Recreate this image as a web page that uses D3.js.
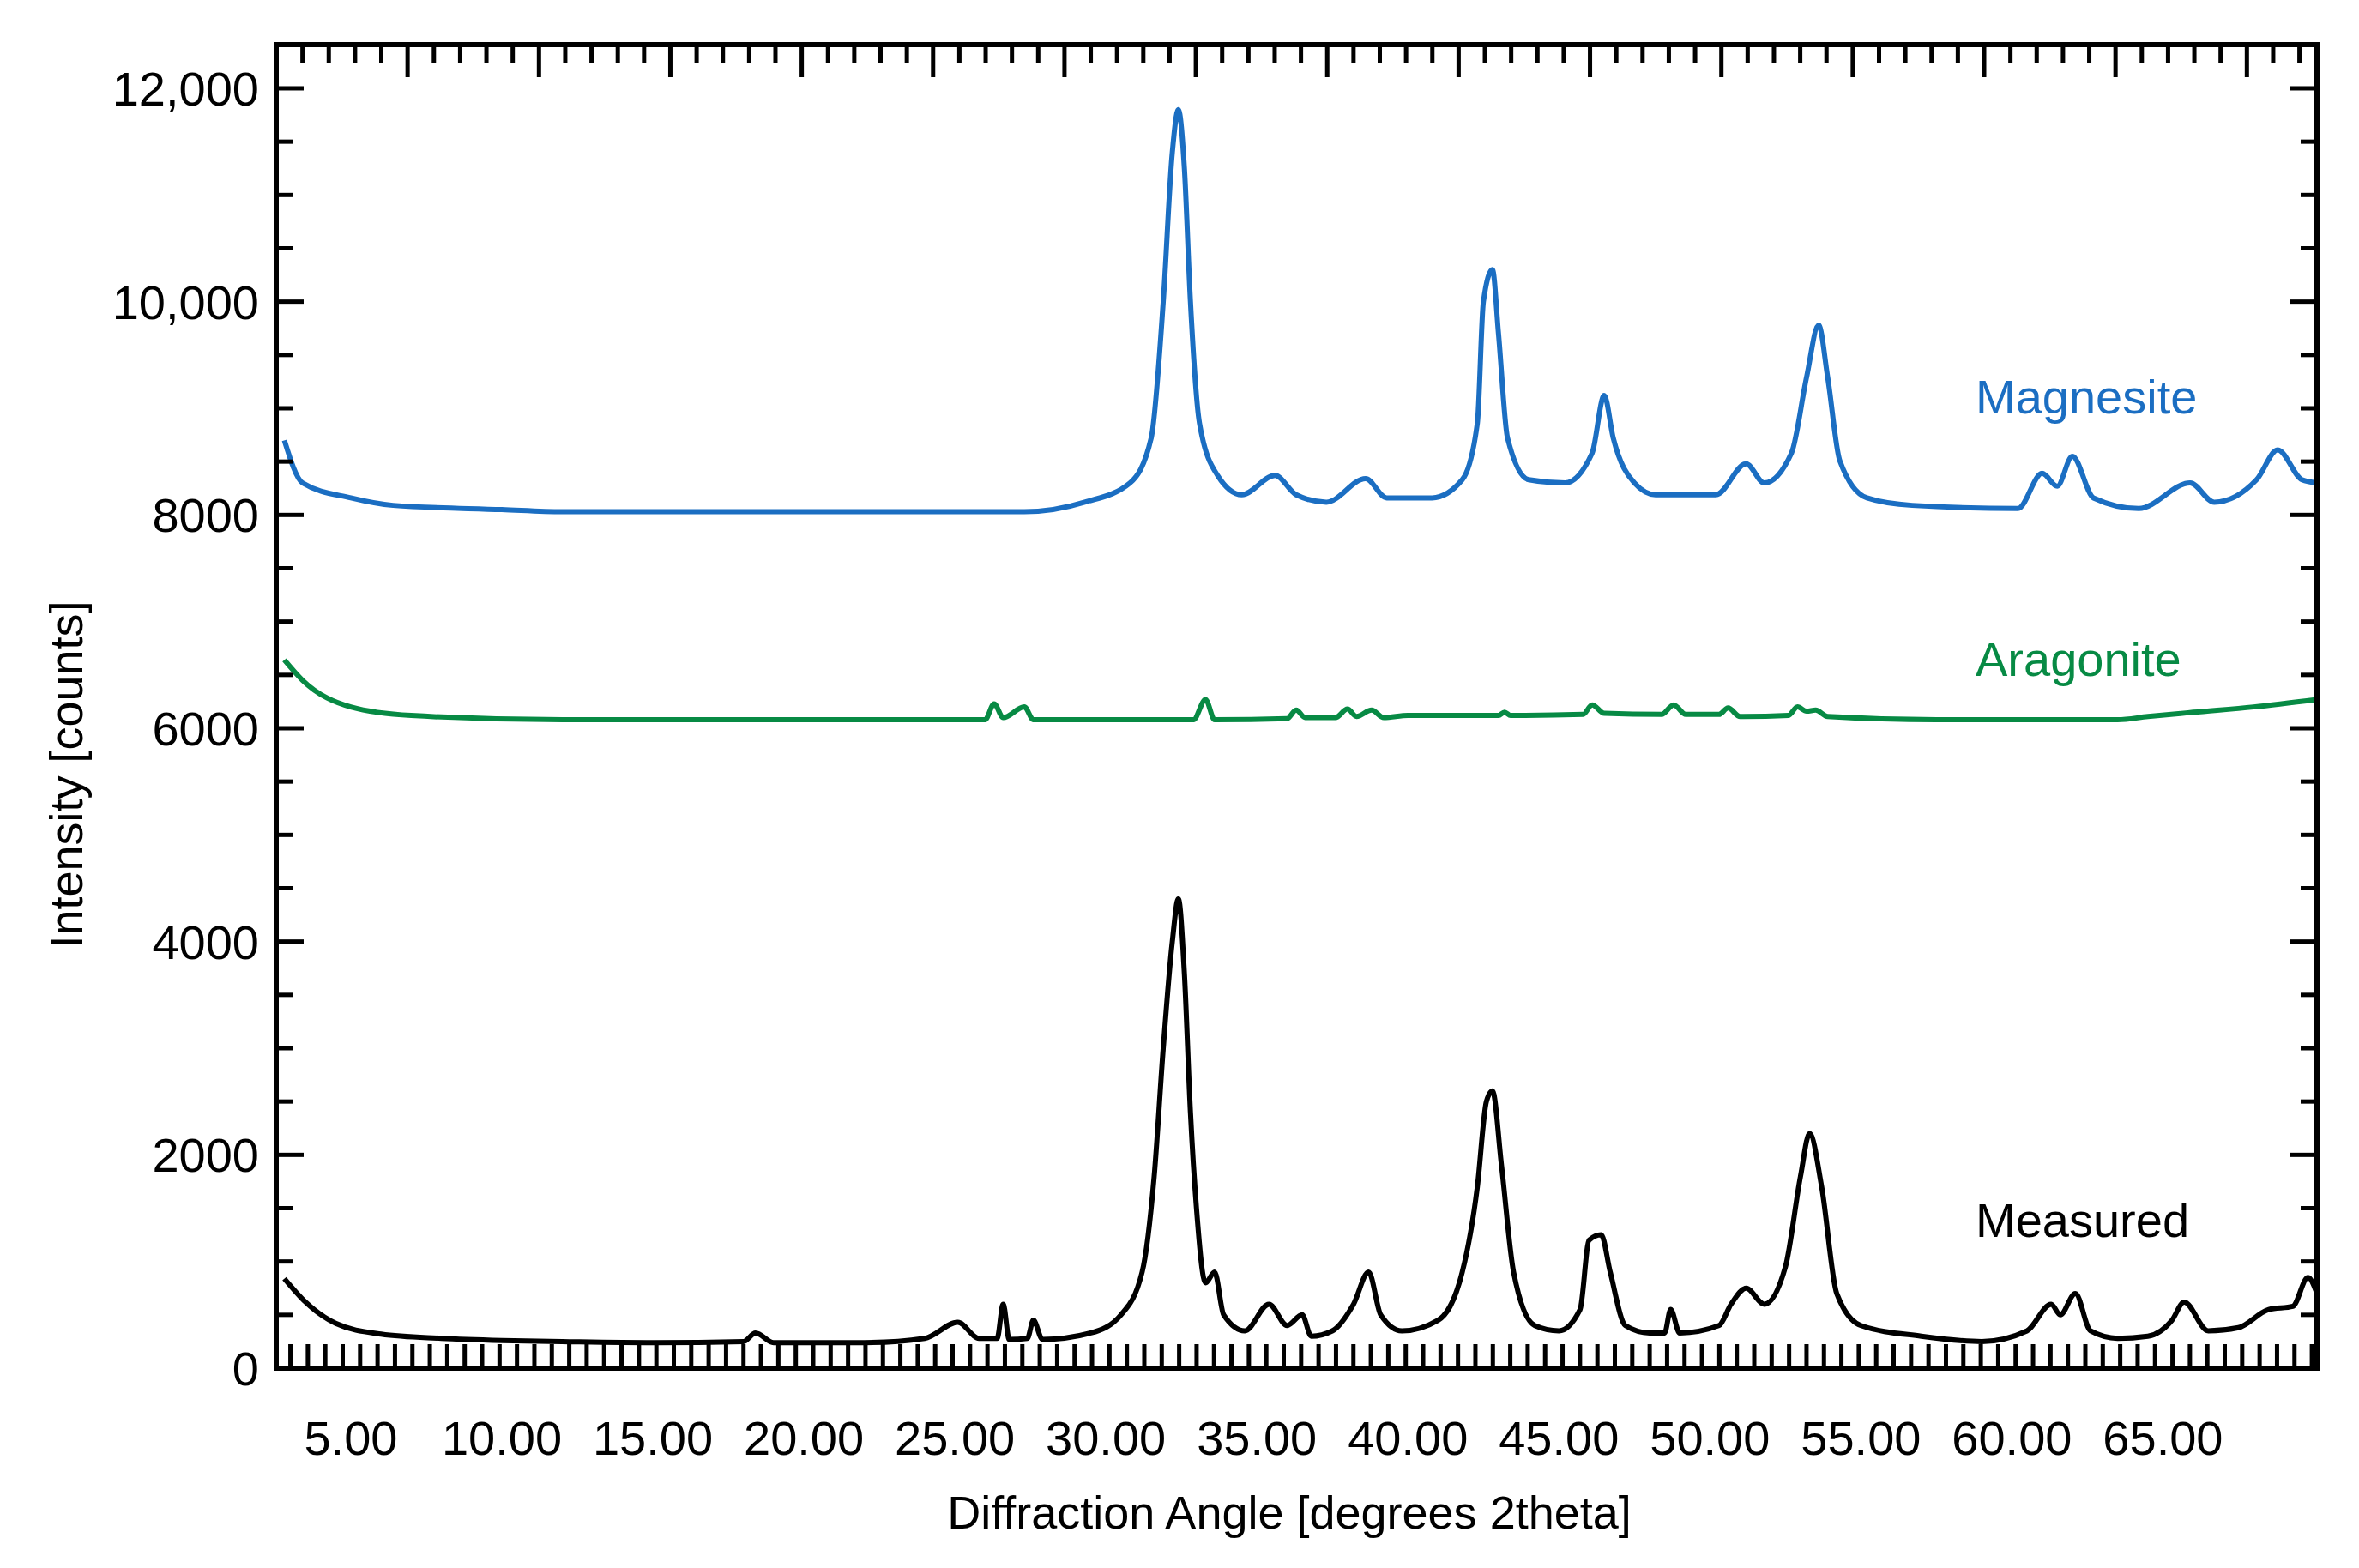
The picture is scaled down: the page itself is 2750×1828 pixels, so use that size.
<!DOCTYPE html>
<html><head><meta charset="utf-8">
<script src="https://cdn.jsdelivr.net/npm/d3@7"></script>
<style>body{margin:0;background:#fff}text{font-family:"Liberation Sans",Arial,sans-serif}</style>
</head><body><svg id="c" width="2750" height="1828"></svg>
<script>
const xTickValues=[5,10,15,20,25,30,35,40,45,50,55,60,65];
const yTickValues=[0,2000,4000,6000,8000,10000,12000];
const yTickLabels=["0","2000","4000","6000","8000","10,000","12,000"];
const magnesite=[[2.8,8700],[3.4,8300],[5,8160],[6.4,8090],[10,8050],[12,8030],[27.3,8030],[29.3,8120],[30.8,8300],[31.5,8720],[31.9,10000],[32.2,11400],[32.4,11800],[32.6,11250],[32.8,10000],[33.1,8860],[33.7,8370],[34.5,8190],[35.6,8370],[36.3,8190],[37.3,8120],[38.6,8340],[39.3,8160],[40.8,8160],[41.8,8330],[42.3,8860],[42.5,10000],[42.8,10300],[43.0,9700],[43.3,8720],[44.0,8330],[45.2,8300],[46.1,8580],[46.5,9120],[46.8,8720],[47.5,8300],[48.2,8190],[50.2,8190],[51.2,8480],[51.8,8300],[52.7,8580],[53.2,9290],[53.6,9780],[53.9,9290],[54.3,8510],[55.2,8160],[56.7,8090],[60.2,8060],[61.0,8390],[61.5,8270],[62.0,8550],[62.7,8160],[64.2,8060],[65.9,8300],[66.7,8120],[68.1,8330],[68.8,8610],[69.6,8330],[70.1,8300]];
const aragonite=[[2.8,6640],[3.4,6450],[5,6200],[7,6120],[12,6080],[26.0,6080],[26.3,6230],[26.6,6100],[27.3,6200],[27.6,6080],[32.9,6080],[33.3,6270],[33.6,6080],[36.0,6090],[36.3,6170],[36.6,6100],[37.6,6100],[38.0,6180],[38.3,6110],[38.8,6170],[39.2,6100],[40.0,6120],[43.0,6120],[43.2,6150],[43.4,6120],[45.8,6130],[46.1,6220],[46.5,6140],[48.4,6130],[48.8,6220],[49.2,6130],[50.3,6130],[50.6,6190],[51.0,6110],[52.6,6120],[52.9,6200],[53.2,6160],[53.5,6170],[53.9,6110],[57.5,6080],[63.5,6080],[64.5,6110],[66,6150],[68,6200],[70.1,6270]];
const measured=[[2.8,840],[3.5,620],[4.5,420],[6,320],[8,280],[10,260],[12,250],[15,240],[18.0,250],[18.4,330],[19,240],[22,240],[24,280],[25.1,430],[25.8,280],[26.4,280],[26.6,600],[26.8,270],[27.4,280],[27.6,450],[27.9,270],[29.5,330],[30.5,500],[31.2,900],[31.6,1800],[31.9,3000],[32.2,4000],[32.4,4400],[32.6,3700],[32.8,2400],[33.0,1500],[33.3,800],[33.6,900],[33.9,500],[34.6,350],[35.4,600],[36.0,400],[36.5,500],[36.8,300],[37.5,350],[38.2,600],[38.7,900],[39.1,500],[39.8,350],[41,450],[41.8,900],[42.3,1700],[42.6,2500],[42.8,2600],[43.1,1900],[43.5,900],[44.2,400],[45.0,350],[45.7,550],[46.0,1200],[46.4,1250],[46.7,900],[47.2,400],[48.0,330],[48.5,330],[48.7,550],[49,330],[50.3,400],[50.7,600],[51.2,750],[51.8,600],[52.5,950],[53.0,1800],[53.3,2200],[53.7,1700],[54.2,700],[55,400],[57,300],[59,250],[60.5,350],[61.3,600],[61.6,500],[62.1,700],[62.6,350],[63.5,280],[64.5,300],[65.3,450],[65.7,620],[66.5,350],[67.5,380],[68.5,550],[69.3,580],[69.8,850],[70.1,700]];
const seriesNames=["Magnesite","Aragonite","Measured"];
const seriesColors=["#1b6ec2","#078a44","#000000"];

const svg=d3.select("#c");
const L=322,R=2701,T=52,B=1595;
const x=d3.scaleLinear().domain([2.53,70.1]).range([L,R]);
const y=d3.scaleLinear().domain([0,12410]).range([B,T]);
const line=d3.line().x(d=>x(d[0])).y(d=>y(d[1])).curve(d3.curveMonotoneX);
svg.append("clipPath").attr("id","cp").append("rect").attr("x",L).attr("y",T).attr("width",R-L).attr("height",B-T);
[magnesite,aragonite,measured].forEach((s,i)=>{
  svg.append("path").attr("d",line(s)).attr("fill","none").attr("stroke",seriesColors[i]).attr("stroke-width",6).attr("stroke-linejoin","round").attr("clip-path","url(#cp)");
});
svg.append("rect").attr("x",L).attr("y",T).attr("width",R-L).attr("height",B-T).attr("fill","none").attr("stroke","#000").attr("stroke-width",6);
const yMinor=d3.range(0,12401,500);
const g=svg.append("g").attr("stroke","#000").attr("stroke-width",5);
yMinor.forEach(v=>{const len=v%2000===0?32:19;
  g.append("line").attr("x1",L).attr("x2",L+len).attr("y1",y(v)).attr("y2",y(v));
  g.append("line").attr("x1",R).attr("x2",R-len).attr("y1",y(v)).attr("y2",y(v));});
d3.range(3.0,70,0.577).forEach(v=>{g.append("line").attr("x1",x(v)).attr("x2",x(v)).attr("y1",B).attr("y2",B-28);});
d3.range(0,80).forEach(k=>{const v=2.53+0.87*(k+1); if(v>=70)return; const len=k%5===4?38:22;
  g.append("line").attr("x1",x(v)).attr("x2",x(v)).attr("y1",T).attr("y2",T+len);});
yTickValues.forEach((v,i)=>svg.append("text").attr("x",302).attr("y",y(v)+20).attr("text-anchor","end").attr("font-size",56).text(yTickLabels[i]));
xTickValues.forEach(v=>svg.append("text").attr("x",x(v)).attr("y",1696).attr("text-anchor","middle").attr("font-size",56).text(v.toFixed(2)));
svg.append("text").attr("x",1503).attr("y",1782).attr("text-anchor","middle").attr("font-size",54).text("Diffraction Angle [degrees 2theta]");
svg.append("text").attr("transform","translate(96,903) rotate(-90)").attr("text-anchor","middle").attr("font-size",54).text("Intensity [counts]");
const ly=[482,788,1442];
seriesNames.forEach((n,i)=>svg.append("text").attr("x",2303).attr("y",ly[i]).attr("font-size",56).attr("fill",seriesColors[i]).text(n));
</script></body></html>
